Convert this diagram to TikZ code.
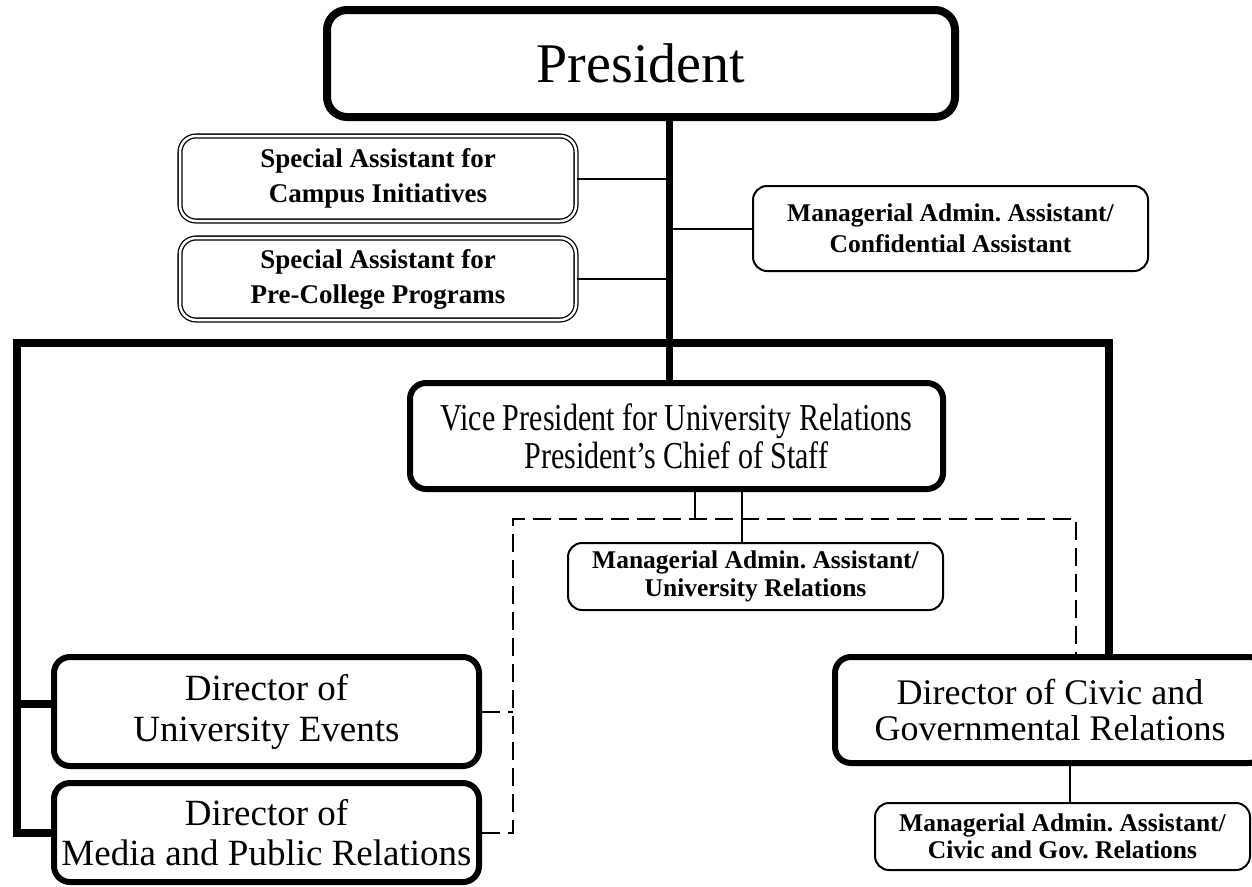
\documentclass[tikz,border=0pt]{standalone}
\usepackage{fontspec}
\setmainfont{Liberation Serif}
\newfontfamily\vpfont[FakeStretch=0.79]{Liberation Serif}
\frenchspacing
\begin{document}
\begin{tikzpicture}[x=1pt,y=-1pt,
  box/.style={draw, rectangle, fill=white, inner sep=0pt, align=center},
  presbox/.style={box, line width=8pt, rounded corners=20pt},
  bigbox/.style={box, line width=6pt, rounded corners=16pt},
  dblbox/.style={box, double, double distance=2.5pt, line width=1.3pt, rounded corners=16pt,
     font=\fontsize{27}{35}\selectfont\bfseries},
  smallbox/.style={box, line width=2pt, rounded corners=14pt},
  thinline/.style={line width=2pt},
  thickline/.style={line width=7pt},
  barline/.style={line width=8pt},
  dashline/.style={line width=2pt, dash pattern=on 18pt off 8pt}
]
\useasboundingbox (0,0) rectangle (1252,886);
\clip (0,0) rectangle (1252,886);

% coordinates for connectors
\coordinate (trunk) at (669,0);
\coordinate (barL) at (17,343);
\coordinate (barR) at (1109,343);
\coordinate (dL) at (513,519);
\coordinate (dR) at (1076,519);
\coordinate (vpd) at (695,0);
\coordinate (vpm) at (742,0);
\coordinate (cm) at (1070,0);

% nodes
\node[presbox, minimum width=628pt, minimum height=107pt,
  font=\fontsize{56}{60}\selectfont] (pres) at (641,63.5) {President};
\node[dblbox, minimum width=396pt, minimum height=85pt] (campus) at (378,178.5)
  {Special Assistant for\\Campus Initiatives};
\node[dblbox, minimum width=396pt, minimum height=82pt] (precol) at (378,279)
  {Special Assistant for\\Pre-College Programs};
\node[smallbox, minimum width=395pt, minimum height=85pt,
  font=\fontsize{25.5}{31}\selectfont\bfseries] (mconf) at (950.5,228.5)
  {Managerial Admin. Assistant/\\Confidential Assistant};
\node[bigbox, minimum width=533pt, minimum height=106pt,
  font=\fontsize{38}{38}\selectfont\vpfont] (vp) at (676.5,436)
  {Vice President for University Relations\\President’s Chief of Staff};
\node[smallbox, minimum width=375pt, minimum height=67pt,
  font=\fontsize{25.5}{28}\selectfont\bfseries] (muni) at (755.5,576.5)
  {Managerial Admin. Assistant/\\University Relations};
\node[bigbox, minimum width=425pt, minimum height=109pt,
  font=\fontsize{37}{41}\selectfont] (events) at (266.5,711.5)
  {Director of\\University Events};
\node[bigbox, minimum width=425pt, minimum height=99pt,
  font=\fontsize{37}{40}\selectfont] (media) at (266.5,832.5)
  {Director of\\Media and Public Relations};
\node[bigbox, minimum width=430pt, minimum height=106pt,
  font=\fontsize{36}{36}\selectfont] (civic) at (1050,710)
  {Director of Civic and\\Governmental Relations};
\node[smallbox, minimum width=375pt, minimum height=67pt,
  font=\fontsize{25.5}{27}\selectfont\bfseries] (mcivic) at (1062.5,836.5)
  {Managerial Admin. Assistant/\\Civic and Gov. Relations};

% connectors
\draw[thickline] (pres.south -| trunk) -- (vp.north -| trunk);
\draw[barline, line cap=rect] (media.west) -| (barL) -- (barR) -- (civic.north -| barR);
\draw[barline] ([yshift=8pt]events.west) -- ([yshift=8pt]events.west -| barL);
\draw[thinline] (campus.east) -- (campus.east -| trunk);
\draw[thinline] (precol.east) -- (precol.east -| trunk);
\draw[thinline] (mconf.west) -- (mconf.west -| trunk);
\draw[thinline] (vp.south -| vpd) -- (dL -| vpd);
\draw[thinline] (vp.south -| vpm) -- (muni.north -| vpm);
\draw[thinline] (civic.south -| cm) -- (mcivic.north -| cm);
\draw[dashline] (events.east) -- (events.east -| dL);
\draw[dashline] (media.east) -- (media.east -| dL) -- (dL) -- (dR) -- (civic.north -| dR);
\end{tikzpicture}
\end{document}
